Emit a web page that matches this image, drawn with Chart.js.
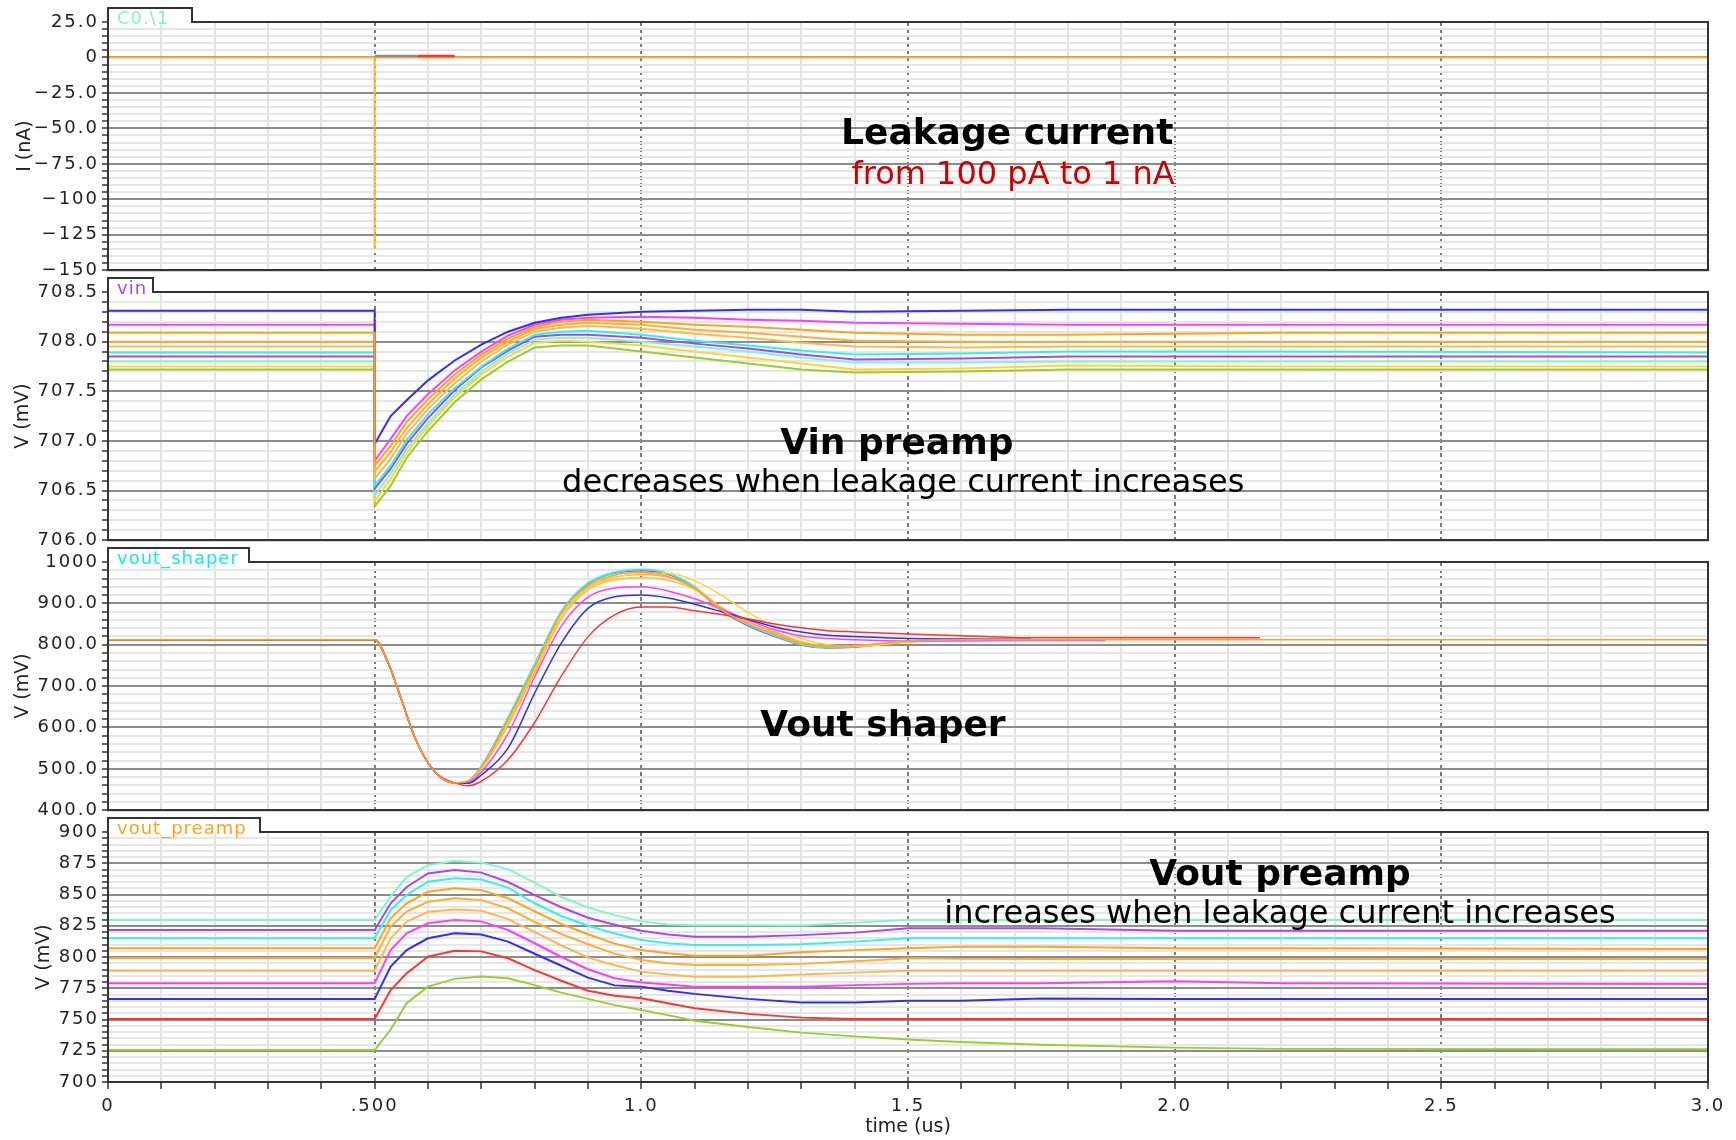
<!DOCTYPE html>
<html>
<head>
<meta charset="utf-8">
<title>Preamp / shaper response vs leakage current</title>
<script src="https://cdn.jsdelivr.net/npm/chart.js@4.4.1/dist/chart.umd.min.js"></script>
<style>
  html, body { margin: 0; padding: 0; background: #fff; }
  #wrap { position: relative; width: 1736px; height: 1140px; overflow: hidden; }
  #wrap canvas { position: absolute; left: 0; }
</style>
</head>
<body>
<div id="wrap">
  <canvas id="currentChart" width="1736" height="284" style="top:0px"></canvas>
  <canvas id="vinChart" width="1736" height="284" style="top:270px"></canvas>
  <canvas id="shaperChart" width="1736" height="284" style="top:540px"></canvas>
  <canvas id="preampChart" width="1736" height="330" style="top:810px"></canvas>
</div>
<script>
// Time axis (us)
const timeTicks = [0, 0.5, 1.0, 1.5, 2.0, 2.5, 3.0];
const timeTickLabels = ['0', '.500', '1.0', '1.5', '2.0', '2.5', '3.0'];

// C0.\1 - injected current (nA)
const currentTicks = [25, 0, -25, -50, -75, -100, -125, -150];
const currentTickLabels = ['25.0', '0', '−25.0', '−50.0', '−75.0', '−100', '−125', '−150'];
const pulseTimes = [0, 0.5, 0.5, 0.5, 3.0];
const pulseCurrent = [0, 0, -135, 0, 0];
const leakTimes = [0.5, 0.58, 0.65];
const leakGray = [1, 1, null];
const leakRed = [null, 1, 1];

// vin - preamp input (mV)
const vinTicks = [708.5, 708.0, 707.5, 707.0, 706.5, 706.0];
const vinTickLabels = ['708.5', '708.0', '707.5', '707.0', '706.5', '706.0'];
const vinTimes = [0, 0.5, 0.5, 0.53, 0.56, 0.6, 0.65, 0.7, 0.75, 0.8, 0.85, 0.9, 1.0, 1.1, 1.2, 1.3, 1.4, 1.6, 1.8, 2.2, 3.0];
const vinBlue    = [708.31, 708.31, 706.97, 707.25, 707.41, 707.61, 707.81, 707.97, 708.10, 708.19, 708.24, 708.27, 708.30, 708.31, 708.32, 708.32, 708.30, 708.31, 708.32, 708.32, 708.32];
const vinMagenta = [708.17, 708.17, 706.80, 707.02, 707.25, 707.47, 707.71, 707.90, 708.06, 708.17, 708.22, 708.24, 708.25, 708.24, 708.22, 708.21, 708.19, 708.18, 708.17, 708.17, 708.17];
const vinOrange1 = [708.09, 708.09, 706.75, 706.95, 707.19, 707.42, 707.67, 707.87, 708.03, 708.15, 708.20, 708.22, 708.20, 708.17, 708.15, 708.12, 708.09, 708.07, 708.07, 708.09, 708.09];
const vinOrange2 = [708.00, 708.00, 706.69, 706.89, 707.13, 707.37, 707.63, 707.84, 708.00, 708.13, 708.17, 708.19, 708.17, 708.12, 708.09, 708.05, 708.01, 708.00, 708.00, 708.00, 708.00];
const vinOrange3 = [707.95, 707.95, 706.62, 706.82, 707.07, 707.32, 707.58, 707.80, 707.97, 708.10, 708.14, 708.16, 708.13, 708.08, 708.04, 707.99, 707.95, 707.94, 707.95, 707.95, 707.95];
const vinCyan    = [707.89, 707.89, 706.55, 706.75, 707.01, 707.27, 707.53, 707.75, 707.93, 708.07, 708.10, 708.11, 708.07, 708.01, 707.96, 707.91, 707.87, 707.88, 707.90, 707.90, 707.89];
const vinPurple  = [707.85, 707.85, 706.52, 706.72, 706.97, 707.23, 707.51, 707.74, 707.91, 708.05, 708.07, 708.07, 708.04, 707.98, 707.93, 707.87, 707.82, 707.83, 707.85, 707.85, 707.85];
const vinAqua    = [707.80, 707.80, 706.45, 706.67, 706.92, 707.18, 707.47, 707.70, 707.88, 708.02, 708.04, 708.04, 708.00, 707.95, 707.90, 707.84, 707.79, 707.79, 707.80, 707.80, 707.80];
const vinGold    = [707.75, 707.75, 706.39, 706.62, 706.88, 707.15, 707.44, 707.67, 707.85, 707.99, 708.01, 708.00, 707.96, 707.90, 707.84, 707.78, 707.72, 707.73, 707.76, 707.75, 707.75];
const vinGreen   = [707.72, 707.72, 706.34, 706.55, 706.83, 707.10, 707.39, 707.62, 707.80, 707.94, 707.96, 707.96, 707.90, 707.84, 707.78, 707.72, 707.69, 707.70, 707.72, 707.72, 707.72];

// vout_shaper (mV)
const shaperTicks = [1000, 900, 800, 700, 600, 500, 400];
const shaperTickLabels = ['1000', '900.0', '800.0', '700.0', '600.0', '500.0', '400.0'];
const shaperTimes = [0, 0.5, 0.525, 0.55, 0.575, 0.6, 0.625, 0.65, 0.675, 0.7, 0.75, 0.8, 0.85, 0.9, 0.95, 1.0, 1.05, 1.1, 1.15, 1.2, 1.25, 1.3, 1.35, 1.4, 1.5, 1.6, 1.73, 1.87, 2.16, 3.0];
const shaperOrange1 = [812, 812, 757, 668, 577, 515, 478, 466, 470, 503, 618, 746, 876, 943, 968, 975, 965, 936, 884, 851, 826, 803, 797, 798, 809, 812, 812, 812, 812, 812];
const shaperRed     = [812, 812, 757, 668, 577, 515, 480, 466, 459, 470, 522, 612, 724, 819, 872, 891, 891, 882, 873, 863, 850, 841, 834, 831, 826, 822, 817, 817, 817, null];
const shaperBlue    = [812, 812, 757, 668, 577, 515, 478, 466, 465, 485, 550, 683, 804, 888, 916, 920, 913, 898, 880, 861, 843, 831, 823, 820, 815, 814, 813, null, null, null];
const shaperMagenta = [812, 812, 757, 668, 577, 515, 478, 466, 467, 492, 585, 722, 845, 915, 937, 940, 930, 911, 886, 860, 836, 821, 815, 812, 809, 809, 810, 810, null, null];
const shaperOrange2 = [812, 812, 757, 668, 577, 515, 478, 466, 469, 500, 610, 738, 868, 938, 963, 970, 963, 938, 890, 856, 830, 806, 796, 796, 807, 812, null, null, null, null];
const shaperOrange3 = [812, 812, 757, 668, 577, 515, 478, 466, 468, 498, 605, 732, 862, 933, 957, 962, 956, 934, 888, 856, 831, 807, 797, 797, 807, 812, null, null, null, null];
const shaperCyan    = [812, 812, 757, 668, 577, 515, 478, 466, 470, 505, 622, 752, 880, 948, 974, 982, 972, 940, 884, 848, 822, 800, 793, 795, 808, 812, null, null, null, null];
const shaperPurple  = [812, 812, 757, 668, 577, 515, 478, 466, 470, 505, 622, 751, 879, 947, 973, 979, 970, 938, 882, 846, 820, 799, 792, 794, 807, 812, null, null, null, null];
const shaperAqua    = [812, 812, 757, 668, 577, 515, 478, 466, 471, 507, 625, 755, 882, 950, 976, 983, 973, 941, 885, 849, 823, 801, 794, 796, 808, 812, null, null, null, null];
const shaperGold    = [812, 812, 757, 668, 577, 515, 478, 466, 469, 500, 612, 740, 868, 936, 962, 972, 973, 955, 920, 878, 844, 815, 800, 797, 806, 812, null, null, null, null];

// vout_preamp (mV)
const preampTicks = [900, 875, 850, 825, 800, 775, 750, 725, 700];
const preampTickLabels = ['900', '875', '850', '825', '800', '775', '750', '725', '700'];
const preampTimes = [0, 0.5, 0.53, 0.56, 0.6, 0.65, 0.7, 0.75, 0.8, 0.85, 0.9, 0.95, 1.0, 1.05, 1.1, 1.2, 1.3, 1.4, 1.5, 1.6, 1.75, 2.0, 2.2, 3.0];
const preampAqua    = [829.6, 829.6, 848.5, 864, 873.5, 876.8, 875.5, 870.3, 859.5, 848, 839.6, 833.5, 828.5, 826, 825.5, 825.5, 825.3, 827.5, 829.6, 829.6, 829.6, 829.6, 829.6, 829.6];
const preampPurple  = [821.6, 821.6, 843, 856, 866.8, 869.6, 867.5, 860, 849.5, 839.8, 831.4, 825.8, 821, 818, 816.3, 816.3, 817.5, 819.5, 823, 823, 823, 821, 821, 821];
const preampCyan    = [815, 815, 837.6, 849.6, 860.2, 863, 862, 855.5, 843, 832.8, 825, 818.8, 813.6, 811, 809.6, 809.6, 810.2, 812.3, 815, 815, 815, 815, 815, 815];
const preampOrange1 = [807, 807, 831, 843, 852.2, 855, 853.5, 847, 836.5, 826.4, 818.2, 810.7, 805.6, 803, 801, 801, 803.8, 805.5, 807, 808.3, 808.3, 807, 807, 806.5];
const preampOrange2 = [799, 799, 824.3, 836.3, 844.2, 847, 845.5, 839, 828, 818.4, 810.2, 802.7, 797.6, 795, 793.6, 793.6, 794.5, 796.6, 799, 798.5, 798.5, 798.5, 798.5, 798.5];
const preampOrange3 = [789, 789, 815, 828.3, 836.2, 838, 837, 830.3, 820, 809.2, 799.6, 793.4, 788.3, 786, 784.3, 784.3, 786, 787.5, 789, 789, 789, 789, 789, 789];
const preampMagenta = [779, 779, 805.6, 819, 827, 829.6, 828.5, 821.6, 811, 800, 790.2, 783, 779.6, 778, 776.3, 776.3, 776.3, 777.5, 778.5, 779, 779, 780.6, 779, 778.4];
const preampBlue    = [766.4, 766.4, 792.3, 805.6, 815, 819, 818, 812.3, 802.6, 793, 783.5, 777.3, 776.3, 773, 770.5, 766.5, 763.7, 763.7, 765, 765, 766.7, 766.4, 766.4, 766.4];
const preampRed     = [750.4, 750.4, 773.6, 787, 800.3, 805, 804.5, 799, 789.5, 781, 773, 769, 767, 763, 759, 754.5, 751.5, 750.4, 750.4, 750.4, 750.4, 750.4, 750.4, 750.4];
const preampGreen   = [725.6, 725.6, 742, 763, 776.3, 782.5, 784.3, 783, 777.5, 771.5, 766.5, 761.5, 757.6, 753.5, 749, 744, 739.5, 736.5, 734, 732, 729.8, 727.5, 726.5, 726.3];

const FONT = '"DejaVu Sans", Verdana, sans-serif';
const AQUA = '#7df5cf', PURPLE = '#a846f5', CYAN = '#33efef', MAGENTA = '#ff3dff';
const ORANGE1 = '#ffa31a', ORANGE2 = '#ffae33', ORANGE3 = '#ffb84d';
const BLUE = '#2e2eff', RED = '#ff3333', GREEN = '#9acd32', GOLD = '#ffd43b', GRAY = '#8c8c8c';

function nearIn(list, value) {
    return list.findIndex(v => Math.abs(v - value) < 1e-6);
}

// all tick positions between min and max, one per step
function stepValues(min, max, step) {
    const n = Math.round((max - min) / step);
    return Array.from({ length: n + 1 }, (_, i) => ({ value: +(min + i * step).toFixed(6) }));
}

function series(times, values, color, width = 2) {
    return {
        data: times.map((t, i) => ({ x: t, y: values[i] })),
        borderColor: color,
        borderWidth: width,
        pointRadius: 0,
        fill: false,
        tension: 0
    };
}

// Frame, signal-name tab and the text notes of each panel
const panelFrame = {
    id: 'panelFrame',
    beforeDraw(chart) {
        chart.ctx.letterSpacing = '0px';
    },
    afterDatasetsDraw(chart) {
        // tick labels are drawn after the datasets (ticks.z = 1)
        chart.ctx.letterSpacing = '2px';
    },
    afterDraw(chart, args, opts) {
        const { ctx, chartArea: a, scales } = chart;
        ctx.save();
        ctx.letterSpacing = '0px';
        ctx.strokeStyle = '#333';
        ctx.lineWidth = 2;
        ctx.strokeRect(a.left, a.top, a.right - a.left, a.bottom - a.top);

        const tabTop = a.top - 14;
        const tabRight = a.left + opts.tabWidth;
        ctx.fillStyle = '#fff';
        ctx.fillRect(a.left + 1, tabTop, opts.tabWidth - 2, 16);
        ctx.beginPath();
        ctx.moveTo(a.left, a.top + 1);
        ctx.lineTo(a.left, tabTop);
        ctx.lineTo(tabRight, tabTop);
        ctx.lineTo(tabRight, a.top);
        ctx.stroke();

        ctx.letterSpacing = '1px';
        ctx.font = '18px ' + FONT;
        ctx.fillStyle = opts.tabColor;
        ctx.textAlign = 'left';
        ctx.textBaseline = 'alphabetic';
        ctx.fillText(opts.tab, a.left + 9, a.top + 2);

        ctx.letterSpacing = '0px';
        ctx.textAlign = 'center';
        (opts.notes || []).forEach(n => {
            ctx.font = (n.bold ? 'bold ' : '') + n.size + 'px ' + FONT;
            ctx.fillStyle = n.color;
            ctx.fillText(n.text, scales.x.getPixelForValue(n.t), scales.y.getPixelForValue(n.v));
        });
        ctx.restore();
    }
};

function makePanel(id, cfg) {
    const showTime = !!cfg.showTime;
    const tickFont = { family: FONT, size: 18 };
    const titleFont = { family: FONT, size: 19 };
    return new Chart(document.getElementById(id), {
        type: 'line',
        data: { datasets: cfg.datasets },
        options: {
            responsive: false,
            devicePixelRatio: 1,
            animation: false,
            events: [],
            layout: { padding: { top: 22, right: 28, bottom: showTime ? 0 : 12, left: 0 }, autoPadding: false },
            plugins: {
                legend: { display: false },
                tooltip: { enabled: false },
                panelFrame: { tab: cfg.tab, tabColor: cfg.tabColor, tabWidth: cfg.tabWidth, notes: cfg.notes }
            },
            scales: {
                x: {
                    type: 'linear',
                    min: 0,
                    max: 3,
                    afterBuildTicks: s => { s.ticks = stepValues(0, 3, 0.1); },
                    afterFit: s => { s.height = showTime ? 58 : 0; },
                    ticks: {
                        display: showTime,
                        autoSkip: false,
                        maxRotation: 0,
                        minRotation: 0,
                        padding: 7,
                        color: '#222',
                        font: tickFont,
                        z: 1,
                        callback: v => {
                            const i = nearIn(timeTicks, v);
                            return i >= 0 ? timeTickLabels[i] : '';
                        }
                    },
                    grid: {
                        drawTicks: showTime,
                        tickLength: 7,
                        tickColor: '#333',
                        tickWidth: 1.5,
                        lineWidth: 2,
                        color: c => (c.tick && nearIn(timeTicks, c.tick.value) >= 0 ? '#7a7a7a' : '#e3e3e3')
                    },
                    border: {
                        color: '#333',
                        width: 2,
                        dash: c => (c.tick && nearIn(timeTicks, c.tick.value) >= 0 ? [4, 3] : [])
                    },
                    title: {
                        display: showTime,
                        text: 'time (us)',
                        color: '#222',
                        font: titleFont,
                        padding: { top: 0, bottom: 2 }
                    }
                },
                y: {
                    type: 'linear',
                    min: cfg.yMin,
                    max: cfg.yMax,
                    afterBuildTicks: s => { s.ticks = stepValues(cfg.yMin, cfg.yMax, cfg.yStep); },
                    afterFit: s => { s.width = 108; },
                    ticks: {
                        autoSkip: false,
                        padding: 3,
                        color: '#222',
                        font: tickFont,
                        z: 1,
                        callback: v => {
                            const i = nearIn(cfg.ticks, v);
                            return i >= 0 ? cfg.labels[i] : '';
                        }
                    },
                    grid: {
                        tickLength: 6,
                        tickColor: '#333',
                        tickWidth: 1.5,
                        lineWidth: 2,
                        color: c => (c.tick && nearIn(cfg.ticks, c.tick.value) >= 0 ? '#8c8c8c' : '#e6e6e6')
                    },
                    border: { color: '#333', width: 2 },
                    title: {
                        display: true,
                        text: cfg.title,
                        color: '#222',
                        font: titleFont,
                        padding: { top: cfg.titlePad, bottom: 0 }
                    }
                }
            }
        },
        plugins: [panelFrame]
    });
}

makePanel('currentChart', {
    yMin: -150, yMax: 25, yStep: 5,
    ticks: currentTicks, labels: currentTickLabels,
    title: 'I (nA)', titlePad: 14,
    tab: 'C0.\\1', tabColor: AQUA, tabWidth: 84,
    datasets: [
        series(leakTimes, leakRed, RED, 2.5),
        series(leakTimes, leakGray, GRAY, 2.5),
        series(pulseTimes, pulseCurrent, '#ffb22e', 2)
    ],
    notes: [
        { text: 'Leakage current', t: 1.686, v: -61.1, size: 36, bold: true, color: '#000' },
        { text: 'from 100 pA to 1 nA', t: 1.697, v: -89.1, size: 32, bold: false, color: '#cc0000' }
    ]
});

makePanel('vinChart', {
    yMin: 706, yMax: 708.5, yStep: 0.1,
    ticks: vinTicks, labels: vinTickLabels,
    title: 'V (mV)', titlePad: 12,
    tab: 'vin', tabColor: PURPLE, tabWidth: 45,
    datasets: [
        series(vinTimes, vinOrange1, ORANGE1),
        series(vinTimes, vinBlue, BLUE),
        series(vinTimes, vinMagenta, MAGENTA),
        series(vinTimes, vinOrange2, ORANGE2),
        series(vinTimes, vinOrange3, ORANGE3),
        series(vinTimes, vinCyan, CYAN),
        series(vinTimes, vinPurple, PURPLE),
        series(vinTimes, vinAqua, AQUA),
        series(vinTimes, vinGold, GOLD),
        series(vinTimes, vinGreen, GREEN)
    ],
    notes: [
        { text: 'Vin preamp', t: 1.479, v: 706.87, size: 36, bold: true, color: '#000' },
        { text: 'decreases when leakage current increases', t: 1.491, v: 706.49, size: 32, bold: false, color: '#000' }
    ]
});

const shaperSets = [
    series(shaperTimes, shaperOrange1, ORANGE1, 1.5),
    series(shaperTimes, shaperRed, RED, 1.5),
    series(shaperTimes, shaperBlue, BLUE, 1.5),
    series(shaperTimes, shaperMagenta, MAGENTA, 1.5),
    series(shaperTimes, shaperGold, GOLD, 1.5),
    series(shaperTimes, shaperOrange2, ORANGE2, 1.5),
    series(shaperTimes, shaperOrange3, ORANGE3, 1.5),
    series(shaperTimes, shaperCyan, CYAN, 1.5),
    series(shaperTimes, shaperPurple, PURPLE, 1.5),
    series(shaperTimes, shaperAqua, AQUA, 1.5)
];
shaperSets.forEach(d => { d.cubicInterpolationMode = 'monotone'; });

makePanel('shaperChart', {
    yMin: 400, yMax: 1000, yStep: 20,
    ticks: shaperTicks, labels: shaperTickLabels,
    title: 'V (mV)', titlePad: 12,
    tab: 'vout_shaper', tabColor: '#18e6ee', tabWidth: 141,
    datasets: shaperSets,
    notes: [
        { text: 'Vout shaper', t: 1.453, v: 580, size: 36, bold: true, color: '#000' }
    ]
});

makePanel('preampChart', {
    yMin: 700, yMax: 900, yStep: 5,
    ticks: preampTicks, labels: preampTickLabels,
    title: 'V (mV)', titlePad: 33,
    tab: 'vout_preamp', tabColor: '#ffa31a', tabWidth: 152,
    showTime: true,
    datasets: [
        series(preampTimes, preampAqua, AQUA),
        series(preampTimes, preampPurple, PURPLE),
        series(preampTimes, preampCyan, CYAN),
        series(preampTimes, preampOrange1, ORANGE1),
        series(preampTimes, preampOrange2, ORANGE2),
        series(preampTimes, preampOrange3, ORANGE3),
        series(preampTimes, preampMagenta, MAGENTA),
        series(preampTimes, preampBlue, BLUE),
        series(preampTimes, preampRed, RED),
        series(preampTimes, preampGreen, GREEN)
    ],
    notes: [
        { text: 'Vout preamp', t: 2.1975, v: 857.6, size: 36, bold: true, color: '#000' },
        { text: 'increases when leakage current increases', t: 2.1975, v: 827.2, size: 32, bold: false, color: '#000' }
    ]
});
</script>
</body>
</html>
